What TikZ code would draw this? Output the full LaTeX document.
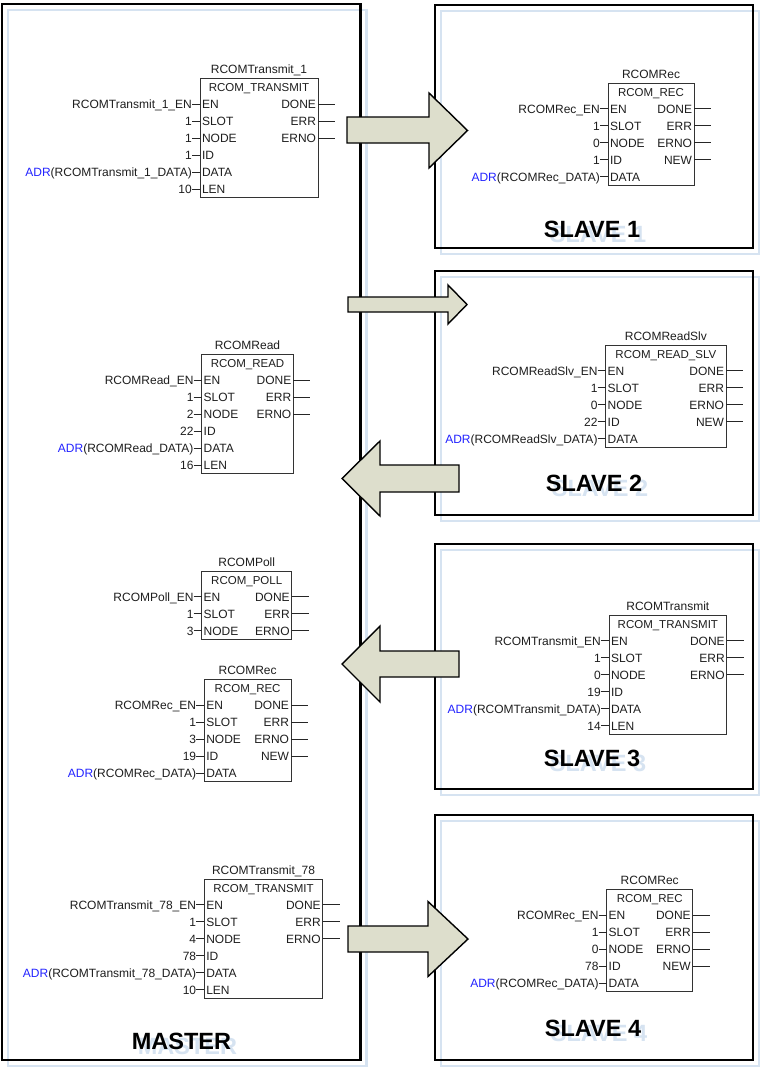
\documentclass[tikz,border=0pt]{standalone}
\usepackage{fontspec}
\setmainfont{Liberation Sans}
\definecolor{shadowblue}{RGB}{214,227,241}
\definecolor{arrowfill}{RGB}{221,222,204}
\definecolor{adrblue}{RGB}{35,35,255}
\definecolor{txt}{RGB}{30,30,30}
\newcommand\adr[1]{{\color{adrblue}ADR}(#1)}
\tikzset{
  every node/.style={inner sep=0pt, text=txt},
  lab/.style={font=\fontsize{12}{14}\selectfont, text height=8.6pt, text depth=0pt},
  typ/.style={font=\fontsize{11.5}{14}\selectfont, text height=8.3pt, text depth=0pt},
  fbbox/.style={draw=black!80, line width=0.9pt},
  stub/.style={draw=black!85, line width=0.9pt},
  panel/.style={draw=black, line width=2.6pt},
  panelshadow/.style={draw=shadowblue, line width=2.6pt},
  bigarrow/.style={draw=black, fill=arrowfill, line width=1.4pt, line join=miter},
  ptitle/.style={font=\fontsize{23.5}{26}\selectfont\bfseries, text=black, text height=16.8pt, text depth=0pt},
  ptitleshadow/.style={font=\fontsize{23.5}{26}\selectfont\bfseries, text=shadowblue, text height=16.8pt, text depth=0pt},
}
% #1 id, #2 left, #3 right, #4 EN row y, #5 instance, #6 type, #7 inputs, #8 outputs, #9 rows
\newcommand\fblock[9]{%
  \node[lab] (#1-title) at ({(#2+#3)/2}, #4-34.5) {#5};
  \node[typ] (#1-type) at ({(#2+#3)/2}, #4-16.5) {#6};
  \draw[fbbox] (#2, #4-25.5) rectangle (#3, {#4+(#9-1)*17+8.5});
  \foreach \lbl/\pin [count=\i] in {#7} {
    \node[lab, anchor=west] (#1-pin\i) at (#2+1.8, {#4+(\i-1)*17}) {\pin};
    \node[lab, anchor=east] (#1-arg\i) at (#2-8, {#4+(\i-1)*17}) {\lbl};
    \coordinate (#1-edge\i) at (#2, {#4+(\i-1)*17});
    \draw[stub] (#1-arg\i.east) -- (#1-edge\i);
  }
  \foreach \pin [count=\i] in {#8} {
    \node[lab, anchor=east] (#1-out\i) at (#3-1.8, {#4+(\i-1)*17}) {\pin};
    \coordinate (#1-oedge\i) at (#3, {#4+(\i-1)*17});
    \coordinate (#1-oend\i) at (#3+17, {#4+(\i-1)*17});
    \draw[stub] (#1-oedge\i) -- (#1-oend\i);
  }
}
\begin{document}
\begin{tikzpicture}[x=1pt, y=-1pt]
\useasboundingbox (0,0) rectangle (760,1068);
\fill[white] (0,0) rectangle (760,1068);

% shadows
\draw[panelshadow] (8,10) rectangle (366.5,1066);
\draw[panelshadow] (441,11) rectangle (759,254);
\draw[panelshadow] (441,277) rectangle (759,521);
\draw[panelshadow] (441,550) rectangle (759,795);
\draw[panelshadow] (441,821) rectangle (759,1066);
\node[ptitleshadow] (mastersh) at (187.5,1046.5) {MASTER};
\node[ptitleshadow] (s1sh) at (598,234) {SLAVE 1};
\node[ptitleshadow] (s2sh) at (600,488.5) {SLAVE 2};
\node[ptitleshadow] (s3sh) at (598,763.5) {SLAVE 3};
\node[ptitleshadow] (s4sh) at (599,1033.5) {SLAVE 4};

% panels
\draw[panel] (2,4) rectangle (360.5,1060);
\draw[panel] (435,5) rectangle (753,248);
\draw[panel] (435,271) rectangle (753,515);
\draw[panel] (435,544) rectangle (753,789);
\draw[panel] (435,815) rectangle (753,1060);
\node[ptitle] (master) at (181.5,1041.5) {MASTER};
\node[ptitle] (s1) at (592,229) {SLAVE 1};
\node[ptitle] (s2) at (594,483.5) {SLAVE 2};
\node[ptitle] (s3) at (592,758.5) {SLAVE 3};
\node[ptitle] (s4) at (593,1028.5) {SLAVE 4};

% function blocks
\fblock{m1}{200}{318}{104}{RCOMTransmit\_1}{RCOM\_TRANSMIT}
  {RCOMTransmit\_1\_EN/EN, 1/SLOT, 1/NODE, 1/ID, \adr{RCOMTransmit\_1\_DATA}/DATA, 10/LEN}
  {DONE, ERR, ERNO}{6}
\fblock{sa}{608}{694}{108.7}{RCOMRec}{RCOM\_REC}
  {RCOMRec\_EN/EN, 1/SLOT, 0/NODE, 1/ID, \adr{RCOMRec\_DATA}/DATA}
  {DONE, ERR, ERNO, NEW}{5}
\fblock{m2}{201.7}{293.3}{380}{RCOMRead}{RCOM\_READ}
  {RCOMRead\_EN/EN, 1/SLOT, 2/NODE, 22/ID, \adr{RCOMRead\_DATA}/DATA, 16/LEN}
  {DONE, ERR, ERNO}{6}
\fblock{sb}{605.7}{726}{370.7}{RCOMReadSlv}{RCOM\_READ\_SLV}
  {RCOMReadSlv\_EN/EN, 1/SLOT, 0/NODE, 22/ID, \adr{RCOMReadSlv\_DATA}/DATA}
  {DONE, ERR, ERNO, NEW}{5}
\fblock{m3}{201.7}{291.7}{596.7}{RCOMPoll}{RCOM\_POLL}
  {RCOMPoll\_EN/EN, 1/SLOT, 3/NODE}
  {DONE, ERR, ERNO}{3}
\fblock{m4}{204.3}{291}{705}{RCOMRec}{RCOM\_REC}
  {RCOMRec\_EN/EN, 1/SLOT, 3/NODE, 19/ID, \adr{RCOMRec\_DATA}/DATA}
  {DONE, ERR, ERNO, NEW}{5}
\fblock{sc}{609}{726.7}{640.7}{RCOMTransmit}{RCOM\_TRANSMIT}
  {RCOMTransmit\_EN/EN, 1/SLOT, 0/NODE, 19/ID, \adr{RCOMTransmit\_DATA}/DATA, 14/LEN}
  {DONE, ERR, ERNO}{6}
\fblock{m5}{204.3}{322.7}{904.7}{RCOMTransmit\_78}{RCOM\_TRANSMIT}
  {RCOMTransmit\_78\_EN/EN, 1/SLOT, 4/NODE, 78/ID, \adr{RCOMTransmit\_78\_DATA}/DATA, 10/LEN}
  {DONE, ERR, ERNO}{6}
\fblock{sd}{606.7}{692.7}{915}{RCOMRec}{RCOM\_REC}
  {RCOMRec\_EN/EN, 1/SLOT, 0/NODE, 78/ID, \adr{RCOMRec\_DATA}/DATA}
  {DONE, ERR, ERNO, NEW}{5}

% arrows
\draw[bigarrow] (347,117) -- (429,117) -- (429,93) -- (467.5,130.5) -- (429,168) -- (429,143) -- (347,143) -- cycle;
\draw[bigarrow] (348,297) -- (448,297) -- (448,285) -- (467,304.5) -- (448,324) -- (448,312) -- (348,312) -- cycle;
\draw[bigarrow] (459,465) -- (380,465) -- (380,441) -- (342,478.5) -- (380,516) -- (380,492) -- (459,492) -- cycle;
\draw[bigarrow] (459,651) -- (380,651) -- (380,626) -- (342,664) -- (380,702) -- (380,677) -- (459,677) -- cycle;
\draw[bigarrow] (348,926) -- (428,926) -- (428,901.5) -- (468,939) -- (428,976.5) -- (428,952) -- (348,952) -- cycle;
\end{tikzpicture}
\end{document}
